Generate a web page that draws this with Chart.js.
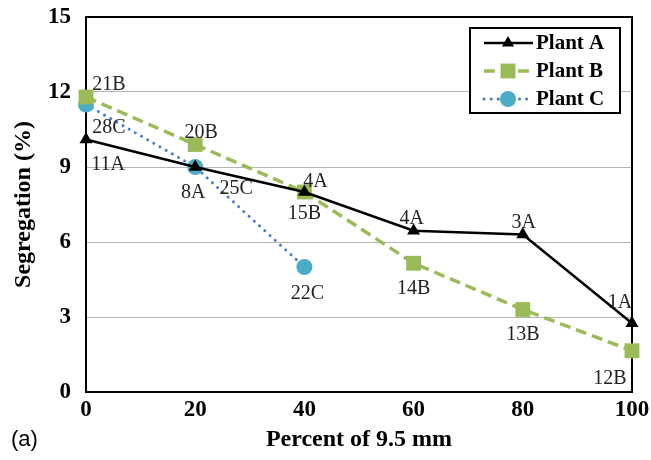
<!DOCTYPE html>
<html>
<head>
<meta charset="utf-8">
<script src="https://cdn.jsdelivr.net/npm/chart.js@4"></script>
<style>
  html, body { margin: 0; padding: 0; background: #fff; }
  #wrap { width: 651px; height: 460px; position: relative; }
</style>
</head>
<body>
<div id="wrap"><canvas id="segChart" width="651" height="460"></canvas></div>
<script>
const percent = [0, 20, 40, 60, 80, 100];
const plantA = [10.1, 9.0, 8.0, 6.45, 6.3, 2.75];
const plantB = [11.8, 9.9, 8.0, 5.15, 3.3, 1.65];
const plantC = [11.5, 9.0, 5.0];
const labelsA = ['11A', '8A', '4A', '4A', '3A', '1A'];
const labelsB = ['21B', '20B', '15B', '14B', '13B', '12B'];
const labelsC = ['28C', '25C', '22C'];
const yTicks = [0, 3, 6, 9, 12, 15];

// where each point label sits relative to its marker (px)
const offsetsA = [[22, 25], [-2, 26], [11, -10], [-2, -12], [1, -12], [-12, -21]];
const offsetsB = [[23, -12], [6, -12], [0, 22], [0, 25], [0, 25], [-22, 28]];
const offsetsC = [[23, 23], [41, 22], [3, 27]];

const serif = "'Liberation Serif', 'Times New Roman', serif";

function toPoints(xs, ys) {
    return ys.map((y, i) => ({ x: xs[i], y: y }));
}

function drawMarker(ctx, style, r, x, y) {
    if (style === 'triangle') {
        ctx.moveTo(x, y - r);
        ctx.lineTo(x + r * 0.866, y + r * 0.5);
        ctx.lineTo(x - r * 0.866, y + r * 0.5);
        ctx.closePath();
    } else if (style === 'rect') {
        const s = r * Math.SQRT1_2;
        ctx.rect(x - s, y - s, 2 * s, 2 * s);
    } else {
        ctx.arc(x, y, r, 0, Math.PI * 2);
    }
}

const pointLabels = {
    id: 'pointLabels',
    afterDatasetsDraw(chart) {
        const ctx = chart.ctx;
        ctx.save();
        ctx.font = '20px ' + serif;
        ctx.fillStyle = '#222';
        ctx.textAlign = 'center';
        ctx.textBaseline = 'middle';
        chart.data.datasets.forEach((ds, i) => {
            const meta = chart.getDatasetMeta(i);
            meta.data.forEach((pt, j) => {
                const off = ds.labelOffsets[j];
                ctx.fillText(ds.pointText[j], pt.x + off[0], pt.y + off[1]);
            });
        });
        ctx.restore();
    }
};

const frame = {
    id: 'frame',
    beforeDatasetsDraw(chart) {
        const a = chart.chartArea;
        const ctx = chart.ctx;
        ctx.save();
        ctx.strokeStyle = '#000';
        ctx.lineWidth = 2;
        ctx.strokeRect(a.left, a.top, a.right - a.left, a.bottom - a.top);
        ctx.restore();
    }
};

const legendBox = {
    id: 'legendBox',
    afterDraw(chart) {
        const ctx = chart.ctx;
        const x = 470, y = 28, w = 150, h = 85;
        ctx.save();
        ctx.fillStyle = '#fff';
        ctx.fillRect(x, y, w, h);
        ctx.strokeStyle = '#000';
        ctx.lineWidth = 2;
        ctx.strokeRect(x, y, w, h);
        chart.data.datasets.forEach((ds, i) => {
            const cy = y + 15 + i * 28;
            ctx.save();
            ctx.strokeStyle = ds.borderColor;
            ctx.lineWidth = ds.borderWidth;
            ctx.lineCap = ds.borderCapStyle || 'butt';
            ctx.setLineDash(ds.borderDash || []);
            ctx.beginPath();
            ctx.moveTo(x + 14, cy);
            ctx.lineTo(x + 63, cy);
            ctx.stroke();
            ctx.restore();
            ctx.fillStyle = ds.pointBackgroundColor;
            ctx.beginPath();
            drawMarker(ctx, ds.pointStyle, ds.pointStyle === 'triangle' ? 7 : ds.pointRadius, x + 38, cy);
            ctx.fill();
            ctx.fillStyle = '#000';
            ctx.font = 'bold 21px ' + serif;
            ctx.textAlign = 'left';
            ctx.textBaseline = 'middle';
            ctx.fillText(ds.label, x + 66, cy + 1);
        });
        ctx.restore();
    }
};

const bottomNote = {
    id: 'bottomNote',
    afterDraw(chart) {
        const ctx = chart.ctx;
        ctx.save();
        ctx.font = "22px 'Liberation Sans', Arial, sans-serif";
        ctx.fillStyle = '#000';
        ctx.textAlign = 'left';
        ctx.textBaseline = 'middle';
        ctx.fillText('(a)', 11, 440);
        ctx.restore();
    }
};

new Chart(document.getElementById('segChart').getContext('2d'), {
    type: 'line',
    data: {
        datasets: [{
            label: 'Plant A',
            data: toPoints(percent, plantA),
            pointText: labelsA,
            labelOffsets: offsetsA,
            borderColor: '#000000',
            borderWidth: 2.5,
            pointStyle: 'triangle',
            pointRadius: 7.5,
            pointBackgroundColor: '#000000',
            pointBorderWidth: 0,
            clip: false
        }, {
            label: 'Plant B',
            data: toPoints(percent, plantB),
            pointText: labelsB,
            labelOffsets: offsetsB,
            borderColor: '#9BBB59',
            borderWidth: 3.5,
            borderDash: [11, 6],
            pointStyle: 'rect',
            pointRadius: 10.5,
            pointBackgroundColor: '#9BBB59',
            pointBorderWidth: 0,
            clip: false
        }, {
            label: 'Plant C',
            data: toPoints(percent, plantC),
            pointText: labelsC,
            labelOffsets: offsetsC,
            borderColor: '#4A7EC6',
            borderWidth: 3,
            borderDash: [0.1, 7],
            borderCapStyle: 'round',
            pointStyle: 'circle',
            pointRadius: 8,
            pointBackgroundColor: '#4BACC6',
            pointBorderWidth: 0,
            clip: false
        }]
    },
    options: {
        responsive: false,
        animation: false,
        layout: { padding: { left: 0, top: 17, right: 19, bottom: 0 } },
        plugins: {
            legend: { display: false },
            tooltip: { enabled: false }
        },
        scales: {
            x: {
                type: 'linear',
                min: 0,
                max: 100,
                ticks: {
                    stepSize: 20,
                    padding: 4,
                    color: '#000',
                    font: { family: serif, size: 23, weight: 'bold' }
                },
                grid: { display: false, drawTicks: false },
                border: { display: false },
                title: {
                    display: true,
                    text: 'Percent of 9.5 mm',
                    color: '#000',
                    padding: { top: 0, bottom: 6 },
                    font: { family: serif, size: 24, weight: 'bold' }
                },
                afterFit(scale) {
                    scale.height = 68;
                    scale.paddingLeft = 0;
                    scale.paddingRight = 0;
                }
            },
            y: {
                min: 0,
                max: 15,
                afterBuildTicks(scale) { scale.ticks = yTicks.map(v => ({ value: v })); },
                ticks: {
                    padding: 15,
                    color: '#000',
                    font: { family: serif, size: 23, weight: 'bold' }
                },
                grid: { color: '#b4b4b4', lineWidth: 1, drawTicks: false },
                border: { display: false },
                title: {
                    display: true,
                    text: 'Segregation (%)',
                    color: '#000',
                    padding: { top: 9, bottom: 0 },
                    font: { family: serif, size: 24, weight: 'bold' }
                },
                afterFit(scale) {
                    scale.width = 86;
                    scale.paddingTop = 0;
                    scale.paddingBottom = 0;
                }
            }
        }
    },
    plugins: [frame, pointLabels, legendBox, bottomNote]
});
</script>
</body>
</html>
